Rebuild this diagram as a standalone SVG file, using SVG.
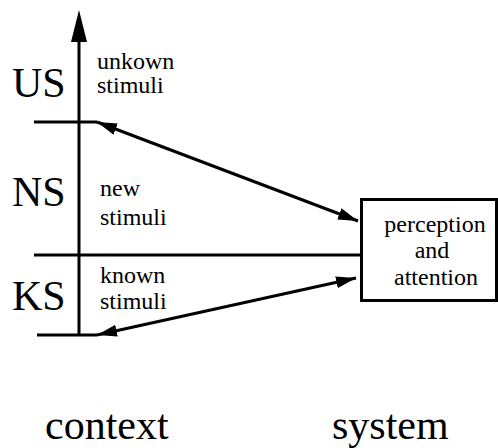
<svg xmlns="http://www.w3.org/2000/svg" width="498" height="448" viewBox="0 0 498 448">
<style>
.ln{stroke:#000;stroke-width:3;fill:none}
text{font-family:'Liberation Serif','Times New Roman',serif;fill:#000}
.big{font-size:42px}
.sm{font-size:24px}
</style>
<defs>
<marker id="ah2" viewBox="0 0 20 12" refX="20" refY="6" markerWidth="20" markerHeight="12" orient="auto-start-reverse" markerUnits="userSpaceOnUse">
<path d="M0,0 L20,6 L0,12 z" fill="#000"/>
</marker>
</defs>
<g id="connectors">
<line class="ln" x1="79" y1="336" x2="79" y2="38"/>
<path d="M79,10 L71,42 L87,42 z" fill="#000"/>
<line class="ln" x1="34" y1="122" x2="97" y2="122"/>
<line class="ln" x1="34" y1="255" x2="361" y2="255"/>
<line class="ln" x1="37" y1="335" x2="97" y2="335"/>
<line class="ln" x1="97" y1="122" x2="358" y2="221" marker-start="url(#ah2)" marker-end="url(#ah2)"/>
<line class="ln" x1="97" y1="335" x2="356" y2="278" marker-start="url(#ah2)" marker-end="url(#ah2)"/>
</g>
<g id="labels">
<text class="big" x="12" y="97">US</text>
<text class="big" x="12" y="206">NS</text>
<text class="big" x="12" y="310">KS</text>
<text class="sm" x="97" y="69">unkown</text>
<text class="sm" x="97" y="93">stimuli</text>
<text class="sm" x="100" y="196">new</text>
<text class="sm" x="100" y="225">stimuli</text>
<text class="sm" x="100" y="283">known</text>
<text class="sm" x="100" y="309">stimuli</text>
<text class="big" x="45" y="439">context</text>
<text class="big" x="332" y="439">system</text>
</g>
<g id="perception">
<rect class="ln" x="361.5" y="199.5" width="135" height="101"/>
<text class="sm" x="435" y="232" text-anchor="middle">perception</text>
<text class="sm" x="432" y="258" text-anchor="middle">and</text>
<text class="sm" x="436" y="285" text-anchor="middle">attention</text>
</g>
</svg>
